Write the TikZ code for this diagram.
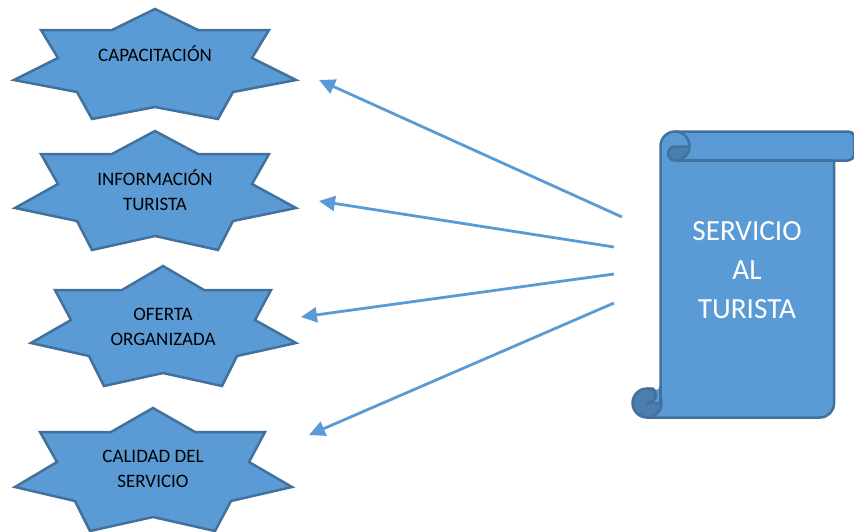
\documentclass[tikz,border=0pt]{standalone}
\usepackage{fontspec}
\setmainfont{Carlito}
\usetikzlibrary{arrows.meta}
\definecolor{fillblue}{HTML}{5B9BD5}
\definecolor{edgeblue}{HTML}{41719C}
\definecolor{curlblue}{HTML}{4A7EAE}
\tikzset{
  x=1pt,y=-1pt,
  starshape/.style={draw=edgeblue,fill=fillblue,line width=2.5pt,line join=miter},
  scrollshape/.style={draw=edgeblue,fill=fillblue,line width=2.5pt,line join=round},
  curlline/.style={draw=edgeblue,line width=2.5pt,line join=round},
  curlshape/.style={draw=edgeblue,fill=curlblue,line width=2.5pt,line join=round},
  startext/.style={align=center,font=\fontsize{19}{25}\selectfont,text=black,inner sep=0pt},
  scrolltext/.style={align=center,font=\fontsize{29.2}{39}\selectfont,text=white,inner sep=0pt},
  linkarrow/.style={draw=fillblue,line width=2.8pt,-{Triangle[length=16pt,width=15pt]}}
}
\begin{document}
\begin{tikzpicture}
\useasboundingbox (0,0) rectangle (854,531);
% stars
\draw[starshape] (155,9)--(198,30)--(269,30)--(252,58)--(296,80)--(233,92)--(218,119)--(155,107)--(92,119)--(77,92)--(14,80)--(58,58)--(41,30)--(112,30)--cycle;
\draw[starshape] (155,131)--(198,154)--(269,154)--(252,184)--(296,208)--(233,221)--(218,250)--(155,236)--(92,250)--(77,221)--(15,208)--(58,184)--(41,154)--(112,154)--cycle;
\draw[starshape] (163,266)--(204,290)--(271,290)--(255,320)--(296,343)--(237,356)--(222,386)--(163,373)--(104,386)--(89,356)--(31,343)--(71,320)--(55,290)--(122,290)--cycle;
\begin{scope}
\clip (0,0) rectangle (854,531);
\draw[starshape] (153,408)--(195,432)--(265,432)--(249,462)--(292,487)--(231,501)--(215,531)--(153,517)--(90,531)--(75,501)--(15,487)--(57,462)--(40,432)--(111,432)--cycle;
\end{scope}
\node[startext] (capacitacion) at (155,53.5) {CAPACITACIÓN};
\node[startext] (informacion) at (155,190) {INFORMACIÓN\\TURISTA};
\node[startext] (oferta) at (163,327) {OFERTA\\ORGANIZADA};
\node[startext] (calidad) at (153,469) {CALIDAD DEL\\SERVICIO};
% scroll
\begin{scope}
\clip (0,0) rectangle (854,531);
\draw[scrollshape] (660.5,146) .. controls (660.5,138) and (667,131.5) .. (675,131.5) -- (848,131.5)
  .. controls (851,131.5) and (854,133) .. (854,136) -- (854,155)
  .. controls (854,158) and (851,160.5) .. (848,160.5) -- (834,160.5)
  -- (834,403.5) .. controls (834,411) and (828,417.5) .. (820,417.5) -- (647,417.5)
  -- (647,403) -- (660.5,388.5) -- cycle;
% upper curl
\draw[curlshape] (675,146.5) -- (689.5,146.5) .. controls (689.5,154.5) and (683,160.5) .. (675,160.5)
  .. controls (671,160.5) and (668,157.3) .. (668,153.5) .. controls (668,149.7) and (671,146.5) .. (675,146.5) -- cycle;
\draw[curlline] (675,131.5) .. controls (683,131.5) and (689.5,138) .. (689.5,146.5);
\draw[curlline] (675,160.5) -- (834,160.5);
% lower curl
\draw[curlshape] (647,388.5) .. controls (655,388.5) and (661.5,395) .. (661.5,403)
  .. controls (661.5,411) and (655,417.5) .. (647,417.5)
  .. controls (639,417.5) and (632.5,411) .. (632.5,403)
  .. controls (632.5,395) and (639,388.5) .. (647,388.5) -- cycle;
\fill[fillblue] (653,389.6) -- (660.5,389.6) -- (660.5,402) -- (652,402)
  .. controls (655,400) and (656,398) .. (656,395.5) .. controls (656,393) and (655,391) .. (653,389.6) -- cycle;
\draw[curlline] (647,388.5) -- (653,388.5) .. controls (655,390.5) and (656,393) .. (656,395.5)
  .. controls (656,399.5) and (652,403) .. (647,403) -- (661,403);
\draw[curlline] (660.5,386) -- (660.5,404);
\end{scope}
\node[scrolltext] (servicio) at (747,270.5) {SERVICIO\\AL\\TURISTA};
% arrows
\coordinate (s1) at (622,217);
\coordinate (s2) at (614,247);
\coordinate (s3) at (614,274);
\coordinate (s4) at (614,303);
\coordinate (e1) at (319,80);
\coordinate (e2) at (319,201);
\coordinate (e3) at (301,317);
\coordinate (e4) at (309,435);
\draw[linkarrow] (s1) -- (e1);
\draw[linkarrow] (s2) -- (e2);
\draw[linkarrow] (s3) -- (e3);
\draw[linkarrow] (s4) -- (e4);
\end{tikzpicture}
\end{document}
